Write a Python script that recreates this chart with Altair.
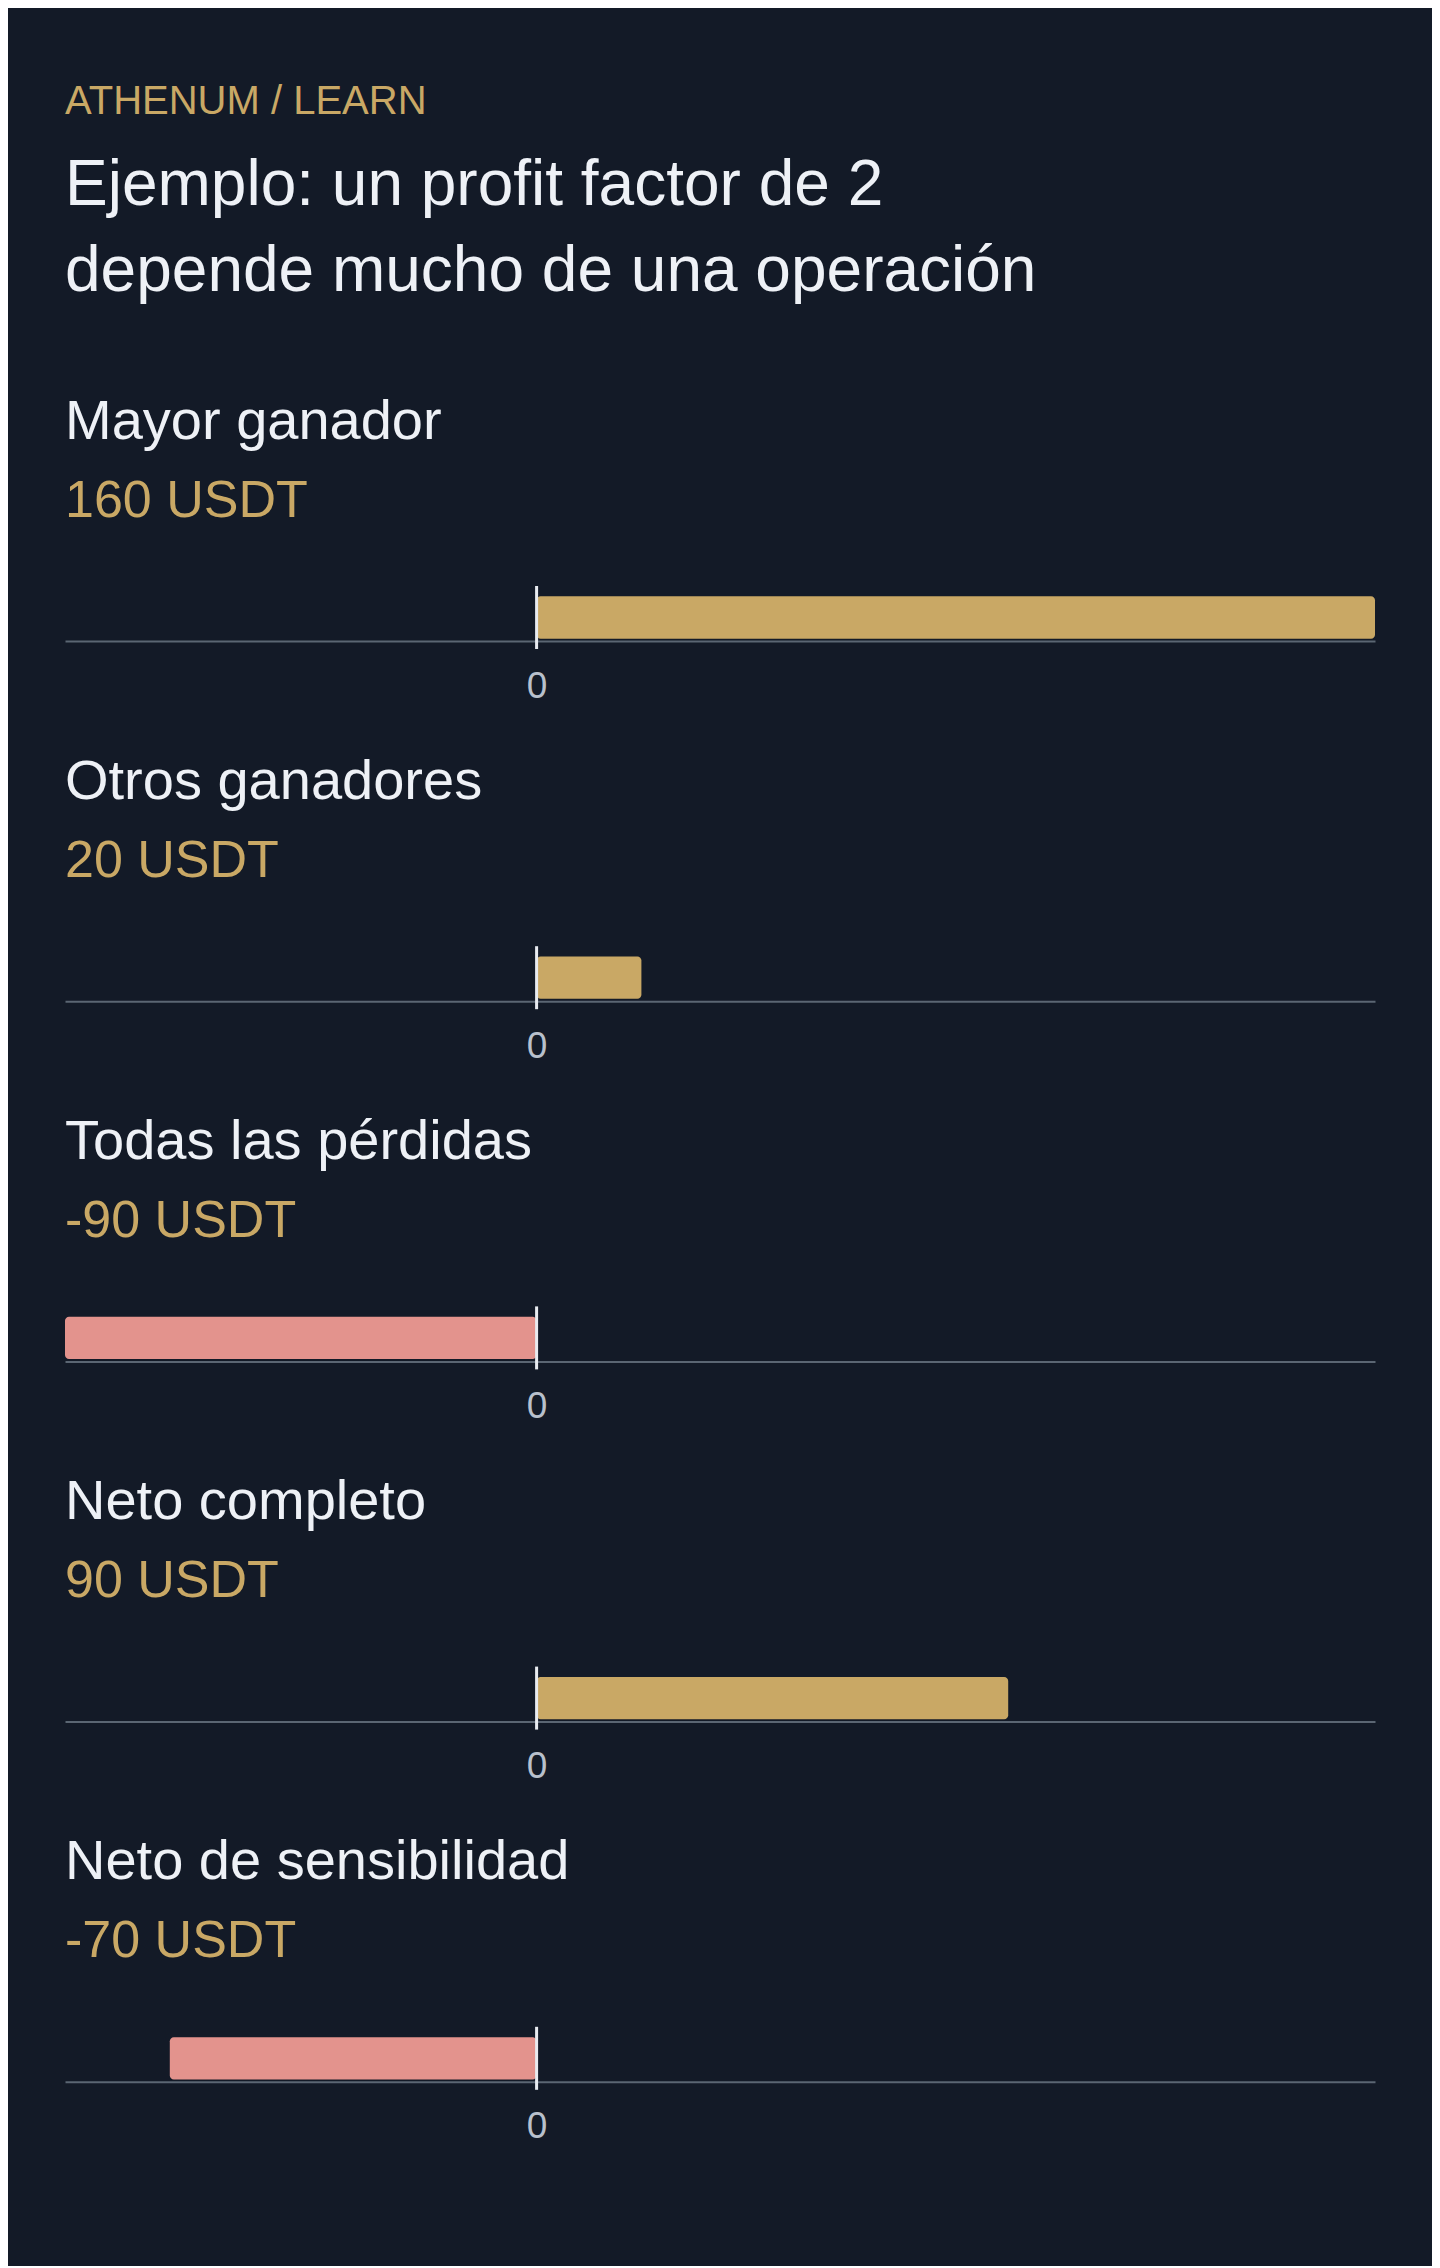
import altair as alt
import pandas as pd

# ---- data ----
labels = ["Mayor ganador", "Otros ganadores", "Todas las pérdidas", "Neto completo", "Neto de sensibilidad"]
values = [160, 20, -90, 90, -70]
unit = "USDT"
kicker = "ATHENUM / LEARN"
headline = ["Ejemplo: un profit factor de 2", "depende mucho de una operación"]
x_domain = [-90, 160]
tick_values = [0]

# ---- style ----
BG = "#131a27"
GOLD = "#c9a865"
RED = "#e3938d"
WHITE = "#eef1f6"
AXIS = "#5b6673"
TICKLBL = "#b8c0cc"
ZERO = "#e8ebf0"
FONT = "Liberation Sans"


def panel(label, value):
    df = pd.DataFrame({"label": [label], "value": [value]})
    x = alt.X(
        "value:Q",
        scale=alt.Scale(domain=x_domain, nice=False, zero=False),
        axis=alt.Axis(
            values=tick_values, title=None, grid=False, ticks=False, tickSize=0,
            domainColor=AXIS, domainWidth=2, labelColor=TICKLBL, labelFontSize=37,
            labelFont=FONT, labelPadding=27,
        ),
    )
    bars = alt.Chart(df).mark_bar(cornerRadius=4).encode(
        x=x,
        x2=alt.datum(0),
        color=alt.condition(alt.datum.value >= 0, alt.value(GOLD), alt.value(RED)),
    )
    zero_rule = alt.Chart(df).mark_rule(color=ZERO, strokeWidth=3).encode(
        x=alt.datum(0), y=alt.value(-8), y2=alt.value(55)
    )
    return alt.layer(bars, zero_rule).properties(
        width=1310,
        height=47,
        title=alt.TitleParams(
            text=label,
            subtitle=f"{value} {unit}",
            anchor="start",
            frame="group",
            font=FONT,
            fontSize=56,
            fontWeight="normal",
            color=WHITE,
            subtitleFont=FONT,
            subtitleFontSize=52,
            subtitleColor=GOLD,
            subtitlePadding=25,
            offset=57,
        ),
    )


chart = alt.vconcat(*[panel(l, v) for l, v in zip(labels, values)], spacing=49.2).properties(
    title=alt.TitleParams(
        text=kicker,
        subtitle=headline,
        anchor="start",
        frame="group",
        font=FONT,
        fontSize=40,
        fontWeight="normal",
        color=GOLD,
        subtitleFont=FONT,
        subtitleFontSize=64,
        subtitleColor=WHITE,
        subtitleLineHeight=86,
        subtitlePadding=32,
        offset=90,
    ),
    padding={"left": 57, "right": 57, "top": 73, "bottom": 121},
    background=BG,
).configure_view(stroke=None)

chart.save("out.html", embed_options={"renderer": "svg", "actions": False})
